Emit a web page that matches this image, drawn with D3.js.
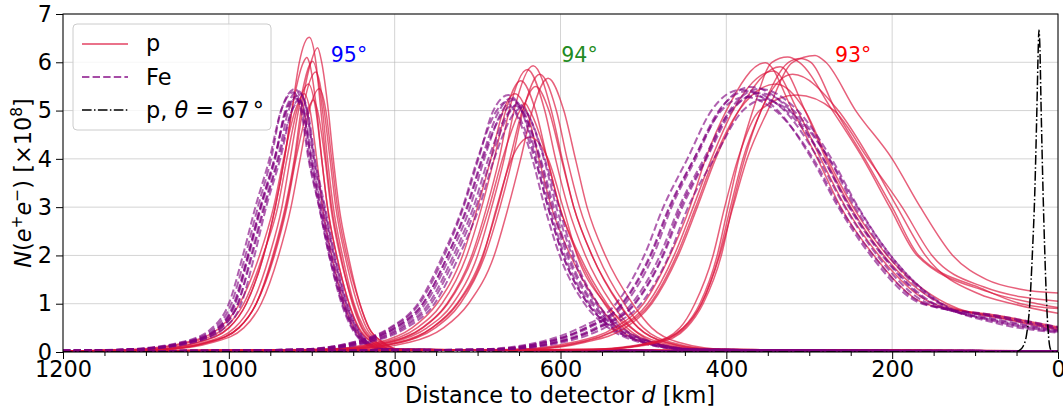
<!DOCTYPE html>
<html>
<head>
<meta charset="utf-8">
<script src="https://cdn.jsdelivr.net/npm/d3@7"></script>
<style>
  body { margin: 0; background: #fff; }
  svg { font-family: "DejaVu Sans", sans-serif; }
</style>
</head>
<body>
<svg id="chart" width="1063" height="412"></svg>
<script>
const levels = [0.05, 0.2, 0.5, 1, 2, 3, 4, 5, 6];

const xMajor = [1200, 1000, 800, 600, 400, 200, 0];
const yMajor = [0, 1, 2, 3, 4, 5, 6, 7];

// pk = [d, N] of maximum, l / r = d where the curve crosses levels[i] before / after the maximum,
// end = [N at 1200 km, N at 0 km], x = extra tail points
const p95 = [
  { pk: [903, 6.52], l: [1095, 1037, 1000, 979, 958, 944, 933, 924, 915], r: [802, 824, 840, 851, 865, 876, 883, 889, 895], end: [0.02, 0.005] },
  { pk: [893, 6.30], l: [1083, 1026, 988, 967, 947, 932, 921, 913, 901], r: [793, 814, 831, 842, 856, 867, 874, 880, 888], end: [0.02, 0.005] },
  { pk: [906, 6.10], l: [1095, 1038, 1000, 979, 958, 944, 933, 924, 910], r: [806, 827, 844, 855, 870, 881, 888, 894, 903], end: [0.02, 0.005] },
  { pk: [899, 6.02], l: [1088, 1030, 993, 972, 951, 936, 926, 916], r: [799, 821, 837, 849, 863, 874, 881, 887], end: [0.02, 0.005] },
  { pk: [895, 5.80], l: [1083, 1025, 988, 967, 946, 931, 920, 911], r: [796, 817, 834, 845, 860, 871, 878, 885], end: [0.02, 0.005] },
  { pk: [904, 5.55], l: [1110, 1046, 1005, 982, 959, 941, 930, 918], r: [806, 827, 843, 855, 870, 881, 888, 895], end: [0.02, 0.005] },
  { pk: [891, 5.45], l: [1077, 1019, 982, 961, 940, 925, 914, 903], r: [793, 814, 831, 842, 858, 869, 876, 883], end: [0.02, 0.005] },
  { pk: [909, 5.35], l: [1117, 1051, 1011, 987, 963, 946, 934, 920], r: [811, 833, 849, 861, 876, 887, 894, 902], end: [0.02, 0.005] },
  { pk: [898, 5.22], l: [1083, 1024, 988, 967, 945, 930, 919, 905], r: [801, 822, 839, 850, 866, 877, 884, 893], end: [0.02, 0.005] }
];

const fe95 = [
  { pk: [920, 5.45], l: [1127, 1055, 1017, 997, 980, 965, 949, 937], r: [813, 836, 850, 862, 878, 890, 901, 910], end: [0.03, 0.005] },
  { pk: [916, 5.40], l: [1121, 1050, 1012, 992, 976, 961, 944, 932], r: [810, 833, 847, 859, 874, 886, 898, 906], end: [0.03, 0.005] },
  { pk: [914, 5.35], l: [1117, 1046, 1009, 989, 973, 958, 941, 928], r: [809, 832, 846, 858, 873, 885, 897, 906], end: [0.03, 0.005] },
  { pk: [922, 5.38], l: [1130, 1058, 1020, 1000, 983, 968, 951, 937], r: [815, 838, 852, 864, 879, 891, 904, 913], end: [0.03, 0.005] },
  { pk: [918, 5.30], l: [1122, 1051, 1013, 993, 977, 962, 945, 931], r: [813, 836, 850, 862, 877, 889, 901, 910], end: [0.03, 0.005] },
  { pk: [912, 5.28], l: [1112, 1042, 1005, 985, 969, 955, 938, 924], r: [808, 831, 845, 857, 872, 884, 896, 905], end: [0.03, 0.005] },
  { pk: [919, 5.25], l: [1123, 1052, 1014, 994, 977, 962, 945, 930], r: [814, 837, 851, 863, 879, 891, 903, 912], end: [0.03, 0.005] },
  { pk: [915, 5.20], l: [1117, 1046, 1009, 989, 972, 957, 940, 924], r: [811, 834, 848, 860, 876, 888, 900, 909], end: [0.03, 0.005] }
];

const p94 = [
  { pk: [633, 5.93], l: [873, 803, 761, 730, 700, 683, 668, 656], r: [413, 473, 506, 530, 562, 584, 598, 611], end: [0.01, 0.02] },
  { pk: [640, 5.85], l: [880, 809, 767, 737, 707, 689, 674, 662], r: [421, 481, 514, 538, 570, 591, 606, 619], end: [0.01, 0.02] },
  { pk: [625, 5.75], l: [864, 793, 751, 721, 691, 673, 658, 645], r: [407, 467, 500, 523, 555, 577, 592, 605], end: [0.01, 0.02] },
  { pk: [615, 5.67], l: [853, 782, 741, 711, 680, 663, 648, 634], r: [398, 458, 490, 513, 546, 568, 582, 596], end: [0.01, 0.02] },
  { pk: [648, 5.62], l: [886, 815, 773, 743, 713, 695, 680, 666], r: [431, 491, 524, 547, 579, 601, 616, 630], end: [0.01, 0.02] },
  { pk: [630, 5.50], l: [867, 796, 755, 725, 694, 676, 661, 646], r: [414, 474, 506, 529, 562, 584, 599, 614], end: [0.01, 0.02] },
  { pk: [655, 5.35], l: [891, 820, 779, 749, 718, 700, 684, 669], r: [440, 500, 531, 555, 588, 611, 626, 641], end: [0.01, 0.02] },
  { pk: [643, 5.15], l: [878, 807, 766, 736, 705, 686, 670, 649], r: [429, 489, 520, 544, 577, 601, 616, 637], end: [0.01, 0.02] },
  { pk: [637, 4.45], l: [865, 792, 755, 724, 693, 677, 659], r: [431, 488, 515, 546, 580, 597, 615], end: [0.01, 0.02] }
];

const fe94 = [
  { pk: [663, 5.32], l: [917, 849, 804, 770, 740, 717, 699, 681], r: [444, 500, 538, 567, 597, 615, 630, 647], end: [0.012, 0.02] },
  { pk: [657, 5.22], l: [910, 842, 797, 763, 733, 709, 692, 670], r: [439, 495, 533, 562, 592, 610, 625, 645], end: [0.012, 0.02] },
  { pk: [651, 5.15], l: [903, 835, 790, 756, 726, 702, 684, 660], r: [434, 490, 528, 557, 586, 605, 620, 642], end: [0.012, 0.02] },
  { pk: [660, 5.25], l: [913, 845, 800, 766, 736, 713, 695, 674], r: [442, 498, 536, 565, 595, 613, 628, 647], end: [0.012, 0.02] },
  { pk: [654, 5.10], l: [906, 838, 793, 759, 729, 705, 687, 661], r: [437, 493, 531, 560, 590, 608, 624, 647], end: [0.012, 0.02] },
  { pk: [666, 5.18], l: [919, 851, 806, 772, 742, 718, 700, 677], r: [448, 504, 542, 571, 601, 619, 634, 656], end: [0.012, 0.02] },
  { pk: [648, 5.05], l: [899, 831, 786, 752, 722, 698, 680, 653], r: [432, 488, 526, 555, 584, 602, 619, 643], end: [0.012, 0.02] },
  { pk: [661, 5.08], l: [913, 845, 800, 766, 736, 712, 694, 667], r: [444, 500, 538, 567, 597, 615, 631, 655], end: [0.012, 0.02] }
];

const p93 = [
  { pk: [293, 6.14], l: [570, 490, 452, 430, 408, 392, 375, 350, 320], r: [null, null, null, null, 127, 166, 200, 244, 280], end: [0.003, 1.22], x: [[86, 1.5], [45, 1.3]] },
  { pk: [326, 6.11], l: [560, 485, 452, 432, 411, 398, 385, 368, 345], r: [null, null, null, 25, 170, 203, 235, 272, 312], end: [0.003, 0.92], x: [[85, 1.25]] },
  { pk: [311, 6.08], l: [560, 485, 450, 430, 409, 395, 380, 358, 325], r: [null, null, null, 45, 168, 200, 233, 268, 298], end: [0.003, 0.90], x: [[90, 1.3]] },
  { pk: [320, 5.75], l: [555, 480, 448, 428, 406, 393, 378, 358], r: [null, null, null, 55, 160, 194, 227, 265], end: [0.003, 0.80], x: [[95, 1.2]] },
  { pk: [315, 5.32], l: [560, 488, 456, 438, 416, 402, 386, 360], r: [null, null, null, null, 152, 188, 229, 270], end: [0.003, 1.05], x: [[90, 1.35]] },
  { pk: [353, 5.99], l: [660, 585, 535, 500, 468, 444, 425, 400], r: [null, null, null, 160, 222, 262, 290, 320], end: [0.003, 0.52], x: [[70, 0.75]] },
  { pk: [335, 5.91], l: [640, 570, 522, 490, 458, 435, 413, 385], r: [null, null, null, 140, 210, 250, 280, 305], end: [0.003, 0.48], x: [[60, 0.68]] },
  { pk: [343, 5.82], l: [650, 578, 530, 495, 463, 440, 418, 392], r: [null, null, null, 150, 216, 256, 286, 314], end: [0.003, 0.50], x: [[65, 0.72]] },
  { pk: [340, 5.55], l: [645, 575, 528, 492, 460, 437, 415, 385], r: [null, null, null, 134, 206, 247, 278, 305], end: [0.003, 0.46], x: [[55, 0.65]] }
];

const fe93 = [
  { pk: [371, 5.49], l: [693, 616, 566, 522, 488, 466, 437, 408], r: [null, null, null, 151, 212, 252, 283, 323], end: [0.005, 0.45], x: [[75, 0.68]] },
  { pk: [361, 5.36], l: [681, 604, 554, 510, 476, 453, 424, 393], r: [null, null, null, 143, 205, 245, 276, 319], end: [0.005, 0.42], x: [[75, 0.64]] },
  { pk: [383, 5.43], l: [704, 627, 577, 533, 499, 476, 447, 418], r: [null, null, null, 164, 226, 265, 297, 338], end: [0.005, 0.52], x: [[75, 0.76]] },
  { pk: [356, 5.22], l: [674, 597, 547, 503, 469, 446, 415, 380], r: [null, null, null, 141, 202, 242, 276, 324], end: [0.005, 0.40], x: [[75, 0.60]] },
  { pk: [375, 5.40], l: [696, 619, 569, 525, 491, 468, 439, 409], r: [null, null, null, 156, 218, 257, 289, 330], end: [0.005, 0.48], x: [[75, 0.72]] },
  { pk: [366, 5.30], l: [685, 608, 558, 514, 480, 457, 427, 395], r: [null, null, null, 149, 211, 251, 283, 328], end: [0.005, 0.44], x: [[75, 0.66]] },
  { pk: [378, 5.28], l: [697, 620, 570, 526, 492, 469, 439, 406], r: [null, null, null, 161, 223, 263, 295, 341], end: [0.005, 0.50], x: [[75, 0.74]] },
  { pk: [360, 5.45], l: [682, 605, 555, 511, 477, 455, 425, 396], r: [null, null, null, 140, 202, 241, 273, 314], end: [0.005, 0.42], x: [[75, 0.63]] }
];

// vertical shower, theta = 67 deg
const p67D = [1200, 52, 47, 42, 38, 34, 31, 28, 25.5, 23.8, 23, 22, 20.3, 18, 16, 13.7, 11.5, 9.5, 7, 0];
const p67N = [0, 0, 0.03, 0.12, 0.35, 1.0, 2.0, 3.3, 5.0, 6.3, 6.67, 6.4, 5.0, 3.3, 2.1, 1.0, 0.35, 0.08, 0.01, 0];

const angleText = ["95", "94", "93"];
const angleD = [877, 599, 269];
const angleColor = ["#0000ff", "#228b22", "#ff0000"];

// ---------------------------------------------------------------
const svg = d3.select("#chart");
const plot = { left: 63, right: 1058, top: 14, bottom: 352 };
const fs = 22.4;

const x = d3.scaleLinear().domain([1200, 0]).range([plot.left, plot.right]);
const y = d3.scaleLinear().domain([0, 7]).range([plot.bottom, plot.top]);

const pColor = "crimson", feColor = "purple";

svg.append("defs").append("clipPath").attr("id", "clip")
  .append("rect")
  .attr("x", plot.left).attr("y", plot.top)
  .attr("width", plot.right - plot.left).attr("height", plot.bottom - plot.top);

// grid
const grid = svg.append("g").attr("stroke", "#b0b0b0").attr("stroke-opacity", 0.55).attr("stroke-width", 1);
grid.selectAll("line.v").data(xMajor).enter().append("line")
  .attr("x1", d => x(d)).attr("x2", d => x(d))
  .attr("y1", plot.top).attr("y2", plot.bottom);
grid.selectAll("line.h").data(yMajor).enter().append("line")
  .attr("x1", plot.left).attr("x2", plot.right)
  .attr("y1", d => y(d)).attr("y2", d => y(d));

function toPoints(c) {
  let pts = [[1200, c.end[0]], [0, c.end[1]], c.pk];
  c.l.forEach((d, i) => { if (d != null) pts.push([d, levels[i]]); });
  c.r.forEach((d, i) => { if (d != null) pts.push([d, levels[i]]); });
  (c.x || []).forEach(p => pts.push(p));
  pts.sort((a, b) => b[0] - a[0]);
  return pts.filter((p, i) => i === 0 || p[0] !== pts[i - 1][0]);
}

const line = d3.line()
  .x(p => x(p[0]))
  .y(p => y(p[1]))
  .curve(d3.curveMonotoneX);

const curves = svg.append("g").attr("clip-path", "url(#clip)").attr("fill", "none");

function drawSet(rows, isFe) {
  curves.append("g").selectAll("path")
    .data(rows).enter().append("path")
    .attr("d", c => line(toPoints(c)))
    .attr("stroke", isFe ? feColor : pColor)
    .attr("stroke-opacity", isFe ? 0.62 : 0.68)
    .attr("stroke-width", isFe ? 2 : 1.5)
    .attr("stroke-dasharray", isFe ? "7.4,3.2" : null);
}

drawSet(p95, false); drawSet(fe95, true);
drawSet(p94, false); drawSet(fe94, true);
drawSet(p93, false); drawSet(fe93, true);

curves.append("path")
  .datum(p67D.map((d, i) => [d, p67N[i]]))
  .attr("d", line)
  .attr("stroke", "black")
  .attr("stroke-width", 1.5)
  .attr("stroke-dasharray", "9.6,2.4,1.5,2.4");

// axes
const minor = d3.range(0, 1201, 50).filter(d => d % 200 !== 0);
svg.append("g").attr("transform", `translate(0,${plot.bottom})`)
  .call(d3.axisBottom(x).tickValues(minor).tickSize(4).tickFormat(""))
  .call(g => g.select(".domain").remove());

const xAxis = svg.append("g").attr("transform", `translate(0,${plot.bottom})`)
  .call(d3.axisBottom(x).tickValues(xMajor).tickSize(7).tickPadding(2).tickFormat(d3.format("d")));
xAxis.select(".domain").remove();

const yAxis = svg.append("g").attr("transform", `translate(${plot.left},0)`)
  .call(d3.axisLeft(y).tickValues(yMajor).tickSize(7).tickPadding(4).tickFormat(d3.format("d")));
yAxis.select(".domain").remove();

svg.selectAll(".tick text")
  .attr("font-family", "DejaVu Sans, sans-serif")
  .attr("font-size", fs)
  .attr("fill", "black");
svg.selectAll(".tick line").attr("stroke", "black");

// frame
svg.append("rect")
  .attr("x", plot.left).attr("y", plot.top)
  .attr("width", plot.right - plot.left).attr("height", plot.bottom - plot.top)
  .attr("fill", "none").attr("stroke", "black").attr("stroke-width", 1);

// axis titles
const xt = svg.append("text")
  .attr("x", 560).attr("y", 403)
  .attr("text-anchor", "middle").attr("font-size", fs);
xt.append("tspan").text("Distance to detector ");
xt.append("tspan").attr("font-style", "italic").text("d");
xt.append("tspan").text(" [km]");

const sup = 15.5;
const yt = svg.append("text")
  .attr("transform", `translate(31,${(plot.top + plot.bottom) / 2}) rotate(-90)`)
  .attr("text-anchor", "middle").attr("font-size", fs);
yt.append("tspan").attr("font-style", "italic").text("N");
yt.append("tspan").text("(");
yt.append("tspan").attr("font-style", "italic").text("e");
yt.append("tspan").attr("dy", -9).attr("font-size", sup).text("+");
yt.append("tspan").attr("dy", 9).attr("font-style", "italic").text("e");
yt.append("tspan").attr("dy", -9).attr("font-size", sup).text("\u2212");
yt.append("tspan").attr("dy", 9).text(") [\u00d710");
yt.append("tspan").attr("dy", -9).attr("font-size", sup).text("8");
yt.append("tspan").attr("dy", 9).text("]");

// angle annotations
svg.selectAll("text.angle").data(angleText).enter().append("text")
  .attr("class", "angle")
  .attr("x", (d, i) => x(angleD[i]))
  .attr("y", 62)
  .attr("font-size", 20.5)
  .attr("fill", (d, i) => angleColor[i])
  .text(d => d + "\u00b0");

// legend
const lg = svg.append("g");
lg.append("rect")
  .attr("x", 73).attr("y", 24).attr("width", 198).attr("height", 106).attr("rx", 4)
  .attr("fill", "white").attr("fill-opacity", 0.8)
  .attr("stroke", "#cccccc").attr("stroke-width", 1);

const legRows = [
  { color: pColor, op: 0.8, w: 1.5, dash: null },
  { color: feColor, op: 0.7, w: 2, dash: "7.4,3.2" },
  { color: "black", op: 1, w: 1.5, dash: "9.6,2.4,1.5,2.4" }
];
legRows.forEach((r, i) => {
  const yy = 44 + i * 33;
  lg.append("line")
    .attr("x1", 82).attr("x2", 128).attr("y1", yy).attr("y2", yy)
    .attr("stroke", r.color).attr("stroke-opacity", r.op)
    .attr("stroke-width", r.w).attr("stroke-dasharray", r.dash);
});
lg.append("text").attr("x", 146).attr("y", 51).attr("font-size", fs).text("p");
lg.append("text").attr("x", 146).attr("y", 85).attr("font-size", fs).text("Fe");
const l3 = lg.append("text").attr("x", 146).attr("y", 118).attr("font-size", fs);
l3.append("tspan").text("p, ");
l3.append("tspan").attr("font-style", "italic").text("\u03b8");
l3.append("tspan").text(" = 67");
l3.append("tspan").attr("dx", 3).text("\u00b0");
</script>
</body>
</html>
